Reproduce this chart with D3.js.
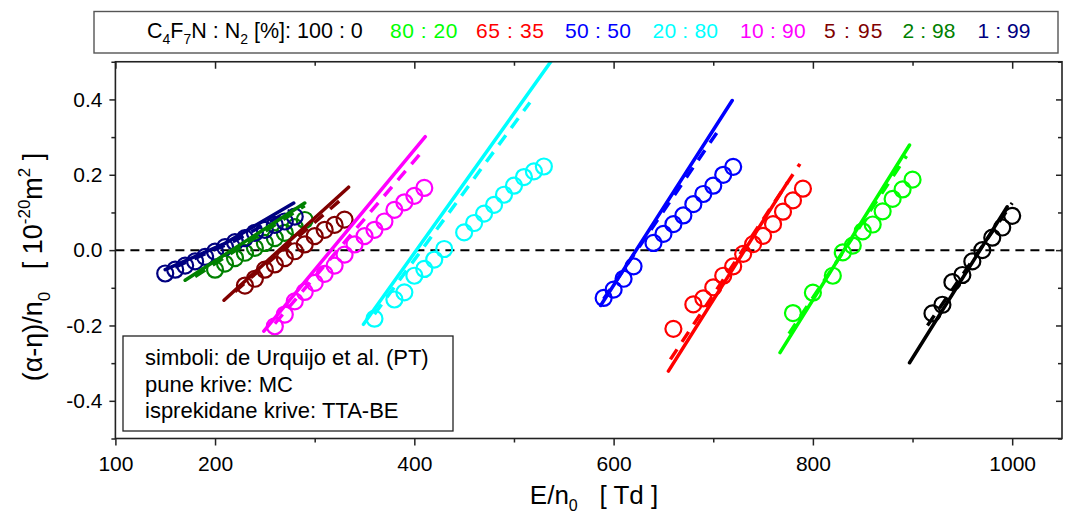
<!DOCTYPE html>
<html><head><meta charset="utf-8">
<script src="https://cdn.jsdelivr.net/npm/d3@7"></script>
<style>
body{margin:0;background:#fff}
text{font-family:"Liberation Sans",Arial,sans-serif;fill:#000}
</style>
</head><body>
<svg id="chart" width="1068" height="515"></svg>
<script>
// ---------------- DATA ----------------
const mixLabels = ["100 : 0","80 : 20","65 : 35","50 : 50","20 : 80","10 : 90","5 : 95","2 : 98","1 : 99"];
const mixColors = ["#000000","#00ff00","#ff0000","#0000ff","#00ffff","#ff00ff","#800000","#008000","#000080"];

// symbols: de Urquijo et al. (PT)
const ptE_100_0 = [920,930,940,950,960,970,980,990,1000];
const ptY_100_0 = [-0.168,-0.145,-0.085,-0.066,-0.030,0.000,0.033,0.060,0.091];
const ptE_80_20 = [780,800,820,830,840,850,860,870,880,890,900];
const ptY_80_20 = [-0.167,-0.113,-0.068,-0.006,0.012,0.050,0.068,0.103,0.136,0.161,0.187];
const ptE_65_35 = [660,680,690,700,710,720,730,740,750,760,770,780,790];
const ptY_65_35 = [-0.209,-0.144,-0.128,-0.099,-0.068,-0.043,-0.010,0.016,0.038,0.069,0.102,0.132,0.163];
const ptE_50_50 = [590,600,610,620,640,650,660,670,680,690,700,710,720];
const ptY_50_50 = [-0.127,-0.105,-0.076,-0.043,0.019,0.043,0.069,0.092,0.122,0.149,0.171,0.200,0.221];
const ptE_20_80 = [360,380,390,400,410,420,430,450,460,470,480,490,500,510,520,530];
const ptY_20_80 = [-0.182,-0.131,-0.112,-0.068,-0.050,-0.025,0.003,0.047,0.072,0.097,0.120,0.147,0.171,0.194,0.209,0.222];
const ptE_10_90 = [260,270,280,290,300,310,320,330,340,350,360,370,380,390,400,410];
const ptY_10_90 = [-0.202,-0.171,-0.136,-0.111,-0.087,-0.063,-0.041,-0.012,0.015,0.037,0.054,0.076,0.107,0.127,0.144,0.165];
const ptE_5_95 = [230,240,250,260,270,280,290,300,310,320,330];
const ptY_5_95 = [-0.094,-0.076,-0.052,-0.038,-0.021,-0.003,0.015,0.037,0.054,0.067,0.081];
const ptE_2_98 = [200,210,220,230,240,250,260,270,280,290];
const ptY_2_98 = [-0.052,-0.036,-0.021,-0.007,0.006,0.019,0.032,0.046,0.061,0.080];
const ptE_1_99 = [150,160,170,180,190,200,210,220,230,240,250,260,270,280];
const ptY_1_99 = [-0.062,-0.052,-0.041,-0.030,-0.018,-0.004,0.008,0.021,0.032,0.046,0.054,0.067,0.076,0.089];

// solid curves: MC
const mcE_100_0 = [897,995];   const mcY_100_0 = [-0.299,0.115];
const mcE_80_20 = [767,897];   const mcY_80_20 = [-0.272,0.279];
const mcE_65_35 = [655,774];   const mcY_65_35 = [-0.321,0.178];
const mcE_50_50 = [587,719];   const mcY_50_50 = [-0.147,0.397];
const mcE_20_80 = [349,545];   const mcY_20_80 = [-0.197,0.530];
const mcE_10_90 = [249,411];   const mcY_10_90 = [-0.215,0.301];
const mcE_5_95  = [209,334];   const mcY_5_95  = [-0.133,0.167];
const mcE_2_98  = [170,290];   const mcY_2_98  = [-0.080,0.125];
const mcE_1_99  = [150,210,279]; const mcY_1_99 = [-0.052,0.018,0.125];

// dashed curves: TTA-BE
const beE_100_0 = [915,1000];  const beY_100_0 = [-0.200,0.125];
const beE_80_20 = [776,894];   const beY_80_20 = [-0.222,0.250];
const beE_65_35 = [657,787];   const beY_65_35 = [-0.290,0.229];
const beE_50_50 = [590,706];   const beY_50_50 = [-0.130,0.321];
const beE_20_80 = [360,516];   const beY_20_80 = [-0.170,0.392];
const beE_10_90 = [260,408];   const beY_10_90 = [-0.195,0.262];
const beE_5_95  = [220,328];   const beY_5_95  = [-0.110,0.138];
const beE_2_98  = [180,290];   const beY_2_98  = [-0.070,0.118];
const beE_1_99  = [160,220,275]; const beY_1_99 = [-0.045,0.025,0.105];

const xMajor = [100,200,400,600,800,1000];
const xMinor = [300,500,700,900];
const yMajor = [-0.4,-0.2,0.0,0.2,0.4];
const yMinor = [-0.5,-0.3,-0.1,0.1,0.3,0.5];
const insetLines = ["simboli: de Urquijo et al. (PT)","pune krive: MC","isprekidane krive: TTA-BE"];

// ---------------- LAYOUT ----------------
const L = 115.4, R = 1062, T = 61.75, B = 438.5;
const svg = d3.select("#chart");
const x = d3.scaleLinear().domain([100,1050]).range([L,R]);
const y = d3.scaleLinear().domain([-0.5,0.5]).range([B,T]);

const series = [
  {pe:ptE_100_0,py:ptY_100_0,me:mcE_100_0,my:mcY_100_0,be:beE_100_0,by:beY_100_0},
  {pe:ptE_80_20,py:ptY_80_20,me:mcE_80_20,my:mcY_80_20,be:beE_80_20,by:beY_80_20},
  {pe:ptE_65_35,py:ptY_65_35,me:mcE_65_35,my:mcY_65_35,be:beE_65_35,by:beY_65_35},
  {pe:ptE_50_50,py:ptY_50_50,me:mcE_50_50,my:mcY_50_50,be:beE_50_50,by:beY_50_50},
  {pe:ptE_20_80,py:ptY_20_80,me:mcE_20_80,my:mcY_20_80,be:beE_20_80,by:beY_20_80},
  {pe:ptE_10_90,py:ptY_10_90,me:mcE_10_90,my:mcY_10_90,be:beE_10_90,by:beY_10_90},
  {pe:ptE_5_95,py:ptY_5_95,me:mcE_5_95,my:mcY_5_95,be:beE_5_95,by:beY_5_95},
  {pe:ptE_2_98,py:ptY_2_98,me:mcE_2_98,my:mcY_2_98,be:beE_2_98,by:beY_2_98},
  {pe:ptE_1_99,py:ptY_1_99,me:mcE_1_99,my:mcY_1_99,be:beE_1_99,by:beY_1_99}
];

svg.append("defs").append("clipPath").attr("id","plotclip")
  .append("rect").attr("x",L).attr("y",T).attr("width",R-L).attr("height",B-T);

// zero dashed line
svg.append("line").attr("x1",L).attr("x2",R).attr("y1",y(0)).attr("y2",y(0))
  .attr("stroke","#000").attr("stroke-width",2).attr("stroke-dasharray","9,6");

const plot = svg.append("g").attr("clip-path","url(#plotclip)");
const line = d3.line().x(d=>x(d[0])).y(d=>y(d[1]));

// circles
series.forEach((s,i)=>{
  plot.append("g").selectAll("circle").data(s.pe.map((e,k)=>[e,s.py[k]])).join("circle")
    .attr("cx",d=>x(d[0])).attr("cy",d=>y(d[1])).attr("r",8)
    .attr("fill","none").attr("stroke",mixColors[i]).attr("stroke-width",2.2);
});
// dashed TTA-BE
series.forEach((s,i)=>{
  plot.append("path").datum(s.be.map((e,k)=>[e,s.by[k]])).attr("d",line)
    .attr("fill","none").attr("stroke",mixColors[i]).attr("stroke-width",3.5)
    .attr("stroke-dasharray","12,9");
});
// solid MC
series.forEach((s,i)=>{
  plot.append("path").datum(s.me.map((e,k)=>[e,s.my[k]])).attr("d",line)
    .attr("fill","none").attr("stroke",mixColors[i]).attr("stroke-width",3.5)
    .attr("stroke-linecap","round");
});

// frame
svg.append("rect").attr("x",L).attr("y",T).attr("width",R-L).attr("height",B-T)
  .attr("fill","none").attr("stroke","#222").attr("stroke-width",1.6);

const fmtY = d => d.toFixed(1);
function styleAxis(g){
  g.select(".domain").remove();
  g.selectAll(".tick line").attr("stroke","#222").attr("stroke-width",1.5);
  g.selectAll("text").attr("font-family","Liberation Sans, Arial, sans-serif").attr("font-size",21).attr("fill","#000");
}
// bottom
svg.append("g").attr("transform",`translate(0,${B})`)
  .call(d3.axisBottom(x).tickValues(xMajor).tickFormat(d3.format("d")).tickSize(7).tickPadding(11)).call(styleAxis);
svg.append("g").attr("transform",`translate(0,${B})`)
  .call(d3.axisBottom(x).tickValues(xMinor).tickFormat("").tickSize(4)).call(styleAxis);
// top (inward)
svg.append("g").attr("transform",`translate(0,${T})`)
  .call(d3.axisTop(x).tickValues(xMajor).tickFormat("").tickSize(-7)).call(styleAxis);
svg.append("g").attr("transform",`translate(0,${T})`)
  .call(d3.axisTop(x).tickValues(xMinor).tickFormat("").tickSize(-4)).call(styleAxis);
// left
svg.append("g").attr("transform",`translate(${L},0)`)
  .call(d3.axisLeft(y).tickValues(yMajor).tickFormat(fmtY).tickSize(6).tickPadding(7)).call(styleAxis);
svg.append("g").attr("transform",`translate(${L},0)`)
  .call(d3.axisLeft(y).tickValues(yMinor).tickFormat("").tickSize(4)).call(styleAxis);
// right (inward)
svg.append("g").attr("transform",`translate(${R},0)`)
  .call(d3.axisRight(y).tickValues(yMajor).tickFormat("").tickSize(-6)).call(styleAxis);
svg.append("g").attr("transform",`translate(${R},0)`)
  .call(d3.axisRight(y).tickValues(yMinor).tickFormat("").tickSize(-4)).call(styleAxis);

// axis titles
const xt = svg.append("text").attr("x",594).attr("y",504).attr("text-anchor","middle")
  .attr("font-size",26).style("white-space","pre");
xt.append("tspan").text("E/n");
xt.append("tspan").attr("font-size",16).attr("dy",7).text("0");
xt.append("tspan").attr("dy",-7).text("   [ Td ]");

const yt = svg.append("text").attr("transform","translate(42,267) rotate(-90)")
  .attr("text-anchor","middle").attr("font-size",27).style("white-space","pre");
yt.append("tspan").text("(α-η)/n");
yt.append("tspan").attr("font-size",17).attr("dy",8).text("0");
yt.append("tspan").attr("dy",-8).text("   [ 10");
yt.append("tspan").attr("font-size",17).attr("dy",-12).text("-20");
yt.append("tspan").attr("dy",12).text("m");
yt.append("tspan").attr("font-size",17).attr("dy",-12).text("2");
yt.append("tspan").attr("dy",12).text(" ]");

// top legend
svg.append("rect").attr("x",94).attr("y",11.5).attr("width",964).attr("height",41.5)
  .attr("fill","#fff").attr("stroke","#555").attr("stroke-width",1.4);
const lgY = 37.5;
const head = svg.append("text").attr("x",147).attr("y",lgY).attr("font-size",21.5);
head.append("tspan").text("C");
head.append("tspan").attr("font-size",14).attr("dy",6).text("4");
head.append("tspan").attr("dy",-6).text("F");
head.append("tspan").attr("font-size",14).attr("dy",6).text("7");
head.append("tspan").attr("dy",-6).text("N : N");
head.append("tspan").attr("font-size",14).attr("dy",6).text("2");
head.append("tspan").attr("dy",-6).text(" [%]: " + mixLabels[0]);
const legendX = [null,390,476,565,652.5,740,824,902.5,977.5];
const legendW = [null,67.5,68,66,65.5,65.6,58.5,53,53];
mixLabels.slice(1).forEach((lab,k)=>{
  svg.append("text").attr("x",legendX[k+1]).attr("y",lgY).attr("font-size",21)
    .attr("textLength",legendW[k+1]).attr("lengthAdjust","spacing")
    .style("fill",mixColors[k+1]).text(lab);
});

// inset box
svg.append("rect").attr("x",123).attr("y",336).attr("width",330).attr("height",95)
  .attr("fill","#fff").attr("stroke","#222").attr("stroke-width",1.3);
insetLines.forEach((t,k)=>{
  svg.append("text").attr("x",145).attr("y",365+k*26.5).attr("font-size",22).text(t);
});
</script>
</body></html>
